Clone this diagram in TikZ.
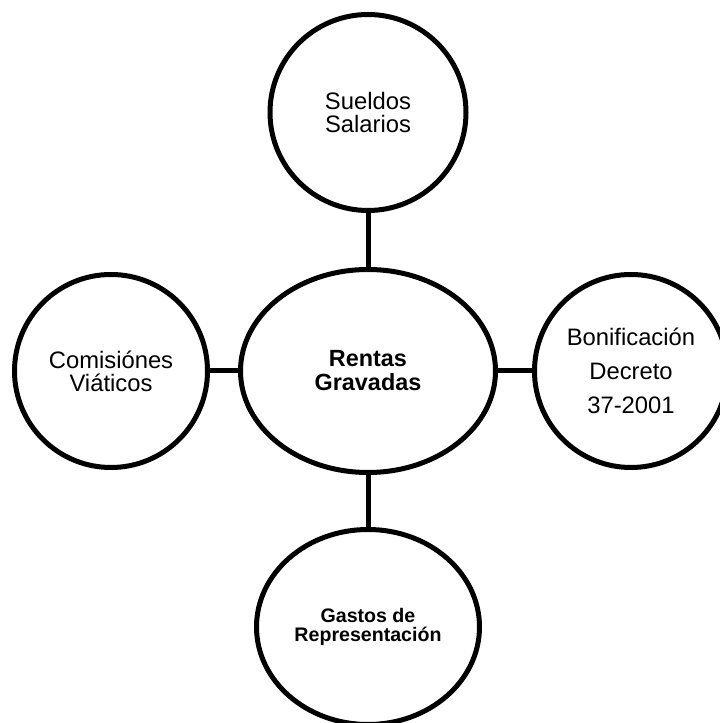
\documentclass[tikz,border=0pt]{standalone}
\usepackage{fontspec}
\setmainfont{Liberation Sans}
\usepackage{tikz}
\usetikzlibrary{positioning,shapes}

\tikzset{
bubble/.style={draw, line width=2.5pt, inner sep=0pt, align=center, font=\fontsize{11.9pt}{11.4pt}\selectfont},
link/.style={draw, line width=2.5pt}
}

\begin{document}
\begin{tikzpicture}
\useasboundingbox (0,0) rectangle (359.5pt,361.5pt);
\node(Root)  [bubble, ellipse, minimum width=127.5pt, minimum height=101.5pt, font=\bfseries\fontsize{11.7pt}{12pt}\selectfont] at (184pt,176pt) {Rentas\\Gravadas};
\node(Up)    [bubble, circle, minimum size=98pt, above = 27pt of Root]   {Sueldos\\Salarios};
\node(Left)  [bubble, circle, minimum size=96.5pt, left = 14pt of Root]  {Comisiónes\\Viáticos};
\node(Right) [bubble, circle, minimum size=96.5pt, right = 17pt of Root] {Bonificación\\[5.6pt]Decreto\\[5.6pt]37-2001};
\node(Down)  [bubble, ellipse, minimum width=111.5pt, minimum height=97.5pt, below = 26pt of Root, font=\bfseries\fontsize{9.8pt}{9.65pt}\selectfont] {Gastos de\\Representación};

\foreach \x in {Up,Left,Right,Down} {
\draw[link] (Root)--(\x);
}
\end{tikzpicture}
\end{document}
